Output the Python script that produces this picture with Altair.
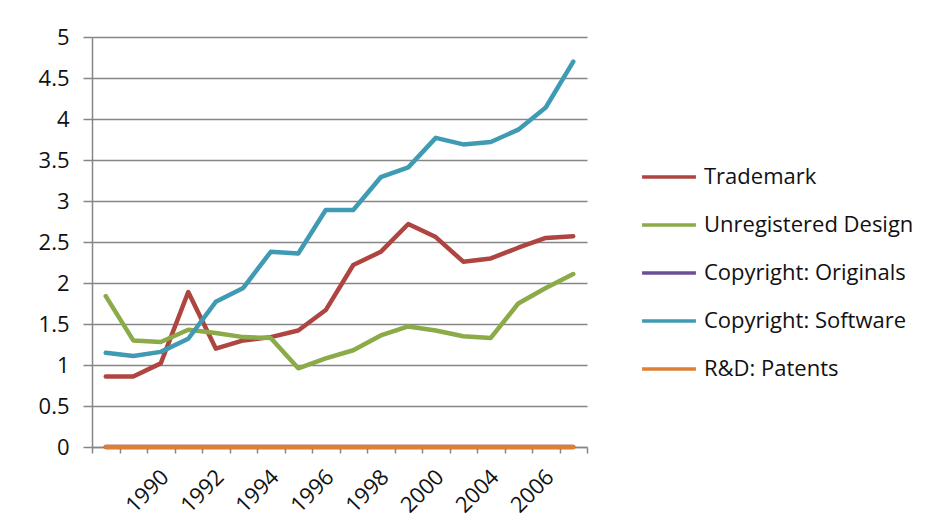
import json
import altair as alt
import pandas as pd

# ---- data ----
years = ["1988", "1989", "1990", "1991", "1992", "1993", "1994", "1995", "1996",
         "1997", "1998", "1999", "2000", "2002", "2004", "2005", "2006", "2007"]
tick_labels = ["1990", "1992", "1994", "1996", "1998", "2000", "2004", "2006"]
y_ticks = [0, 0.5, 1, 1.5, 2, 2.5, 3, 3.5, 4, 4.5, 5]

series_names = ["Trademark", "Unregistered Design", "Copyright: Originals",
                "Copyright: Software", "R&D: Patents"]
trademark = [0.86, 0.86, 1.02, 1.89, 1.20, 1.30, 1.34, 1.42, 1.67, 2.22, 2.38,
             2.72, 2.56, 2.26, 2.30, 2.43, 2.55, 2.57]
unregistered_design = [1.84, 1.30, 1.28, 1.43, 1.39, 1.34, 1.33, 0.96, 1.08,
                       1.18, 1.36, 1.47, 1.42, 1.35, 1.33, 1.75, 1.94, 2.11]
copyright_originals = [0, 0, 0, 0, 0, 0, 0, 0, 0, 0, 0, 0, 0, 0, 0, 0, 0, 0]
copyright_software = [1.15, 1.11, 1.16, 1.32, 1.77, 1.94, 2.38, 2.36, 2.89,
                      2.89, 3.29, 3.41, 3.77, 3.69, 3.72, 3.87, 4.14, 4.70]
rd_patents = [0, 0, 0, 0, 0, 0, 0, 0, 0, 0, 0, 0, 0, 0, 0, 0, 0, 0]
series_colors = ["#AE4541", "#8BAA48", "#6C4E96", "#3F9AB3", "#DD8036"]

series_values = [trademark, unregistered_design, copyright_originals,
                 copyright_software, rd_patents]

rows = []
for name, vals in zip(series_names, series_values):
    for yr, v in zip(years, vals):
        rows.append({"year": yr, "value": v, "series": name,
                     "order": series_names.index(name)})
df = pd.DataFrame(rows)

FONT = "Open Sans"
GRAY = "#868686"

label_expr = ("indexof(" + json.dumps(tick_labels) +
              ", datum.value) >= 0 ? datum.value : ''")

chart = alt.Chart(df).mark_line(strokeWidth=4.5, strokeCap="round",
                                strokeJoin="round").encode(
    x=alt.X("year:N", sort=years,
            scale=alt.Scale(type="band", paddingInner=0, paddingOuter=0),
            axis=alt.Axis(title=None, labelAngle=-45, labelExpr=label_expr,
                          tickBand="extent", tickSize=6, tickColor=GRAY,
                          tickWidth=1.5, domainColor=GRAY, domainWidth=1.5,
                          grid=False, labelFont=FONT, labelFontSize=22,
                          labelColor="#111111", labelPadding=13,
                          labelOffset=-3, labelOverlap=False)),
    y=alt.Y("value:Q", scale=alt.Scale(domain=[0, 5], nice=False),
            axis=alt.Axis(title=None, values=y_ticks, format="~g",
                          grid=True, gridColor=GRAY, gridWidth=1.5,
                          domainColor=GRAY, domainWidth=1.5,
                          tickColor=GRAY, tickWidth=1.5, tickSize=9,
                          labelPadding=14, labelFont=FONT, labelFontSize=22,
                          labelColor="#111111")),
    color=alt.Color("series:N", sort=series_names,
                    scale=alt.Scale(domain=series_names, range=series_colors),
                    legend=alt.Legend(title=None, orient="none",
                                      legendX=548, legendY=111,
                                      symbolType="stroke", symbolSize=2900,
                                      symbolStrokeWidth=3.5,
                                      labelFont=FONT, labelFontSize=22,
                                      labelColor="#111111", labelOffset=6,
                                      labelLimit=400, rowPadding=8)),
    order=alt.Order("order:Q"),
).properties(
    width=495, height=410,
    padding={"left": 30, "top": 18, "right": 5, "bottom": 5},
    background="white",
).configure_view(stroke=None)

chart.save("out.html", embed_options={"renderer": "svg", "actions": False})
